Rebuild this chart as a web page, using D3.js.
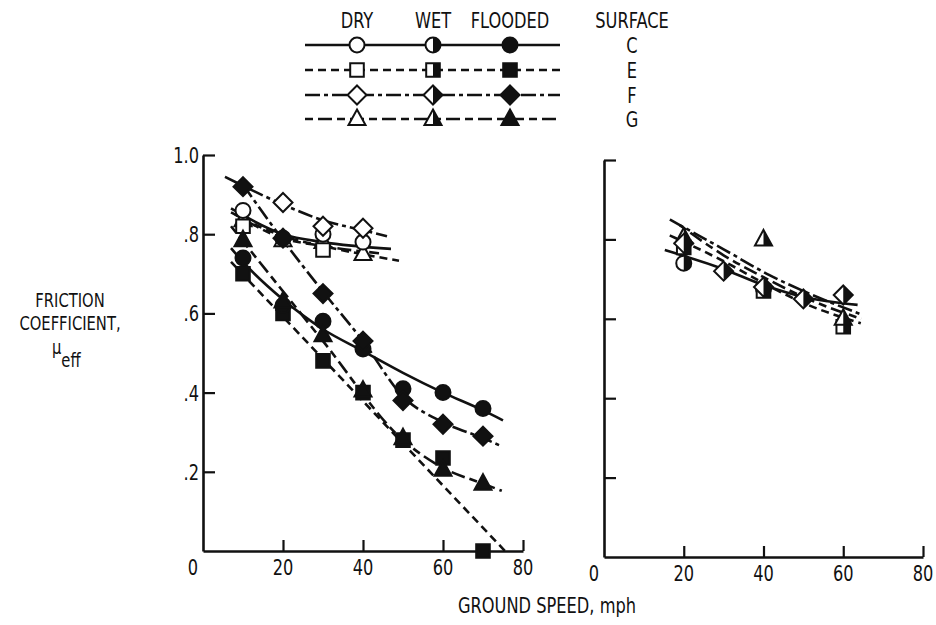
<!DOCTYPE html>
<html>
<head>
<meta charset="utf-8">
<script src="https://cdn.jsdelivr.net/npm/d3@7/dist/d3.min.js"></script>
<style>
  html, body { margin: 0; padding: 0; background: #fff; }
  svg { display: block; }
  text { font-family: "DejaVu Sans Condensed", "DejaVu Sans", sans-serif; fill: #111; }
</style>
</head>
<body>
<svg id="chart" width="936" height="625"></svg>
<script>
// ---- data ----------------------------------------------------------------
const surfaces = ["C", "E", "F", "G"];
const conditions = ["DRY", "WET", "FLOODED"];
const xTicks = [20, 40, 60, 80];
const yTicks = [0.2, 0.4, 0.6, 0.8, 1.0];
const yTickLabels = [".2", ".4", ".6", ".8", "1.0"];

// left panel, dry runs [speed mph, mu]
const dryC = [[10, 0.86], [20, 0.79], [30, 0.80], [40, 0.78]];
const dryE = [[10, 0.82], [30, 0.76]];
const dryF = [[20, 0.88], [30, 0.82], [40, 0.815]];
const dryG = [[10, 0.835], [20, 0.785], [30, 0.78], [40, 0.75]];

// left panel, flooded runs
const floodC = [[10, 0.74], [20, 0.62], [30, 0.58], [40, 0.51], [50, 0.41], [60, 0.40], [70, 0.36]];
const floodE = [[10, 0.70], [20, 0.60], [30, 0.48], [40, 0.40], [50, 0.28], [60, 0.235], [70, 0.0]];
const floodF = [[10, 0.92], [20, 0.79], [30, 0.65], [40, 0.53], [50, 0.38], [60, 0.32], [70, 0.29]];
const floodG = [[10, 0.785], [20, 0.63], [30, 0.545], [40, 0.405], [50, 0.285], [60, 0.205], [70, 0.17]];

// right panel, wet runs
const wetC = [[20, 0.74], [40, 0.675]];
const wetE = [[20, 0.78], [40, 0.67], [60, 0.58]];
const wetF = [[20, 0.79], [30, 0.72], [40, 0.68], [50, 0.65], [60, 0.66]];
const wetG = [[20, 0.805], [40, 0.80], [60, 0.60]];

// faired curves through the runs
const fitDryC = [[7, 0.865], [20, 0.80], [30, 0.78], [47, 0.763]];
const fitDryE = [[7, 0.855], [20, 0.795], [30, 0.77], [49, 0.733]];
const fitDryF = [[5.5, 0.945], [20, 0.875], [30, 0.835], [40, 0.81], [46, 0.795]];
const fitDryG = [[8, 0.85], [20, 0.79], [30, 0.77], [44, 0.752]];

const fitFloodC = [[7, 0.765], [10, 0.73], [20, 0.635], [30, 0.56], [40, 0.505], [50, 0.45], [60, 0.40], [70, 0.355], [75, 0.33]];
const fitFloodE = [[7, 0.73], [75.5, 0.0]];
const fitFloodF = [[10, 0.925], [20, 0.785], [30, 0.655], [40, 0.53], [50, 0.39], [60, 0.325], [70, 0.285], [74.3, 0.266]];
const fitFloodG = [[7, 0.82], [30, 0.53], [50, 0.28], [60, 0.21], [70, 0.17], [74.7, 0.152]];

const fitWetC = [[15.25, 0.773], [30, 0.725], [40, 0.685], [50, 0.655], [63.6, 0.635]];
const fitWetE = [[16.5, 0.81], [30, 0.745], [40, 0.69], [50, 0.64], [64.4, 0.589]];
const fitWetF = [[16.5, 0.85], [30, 0.775], [41.5, 0.71], [50, 0.67], [64.8, 0.61]];
const fitWetG = [[19, 0.836], [30, 0.76], [40, 0.705], [50, 0.655], [64.5, 0.60]];

// ---- styles ---------------------------------------------------------------
const ink = "#111";
const shapeOf = { C: "circle", E: "square", F: "diamond", G: "triangle" };
const dashOf = { C: null, E: "8,5", F: "15,4,4,4", G: "8,5,14,5" };

const svg = d3.select("#chart");

// tall, narrow lettering
function label(g, x, y, str, anchor = "middle", size = 22) {
  return g.append("text")
    .attr("transform", `translate(${x},${y}) scale(0.82,1)`)
    .attr("text-anchor", anchor)
    .style("font-size", size + "px")
    .text(str);
}

// marker geometry, centred on 0,0
function fullPath(shape) {
  switch (shape) {
    case "circle": { const r = 7.5; return `M0,${-r}A${r},${r} 0 1 1 0,${r}A${r},${r} 0 1 1 0,${-r}Z`; }
    case "square": { const s = 6.8; return `M${-s},${-s}H${s}V${s}H${-s}Z`; }
    case "diamond": { const r = 9.5; return `M0,${-r}L${r},0L0,${r}L${-r},0Z`; }
    case "triangle": { const w = 8.5, t = 9.5, b = 6; return `M0,${-t}L${w},${b}H${-w}Z`; }
  }
}
function halfPath(shape) {
  switch (shape) {
    case "circle": { const r = 7.5; return `M0,${-r}A${r},${r} 0 0 1 0,${r}Z`; }
    case "square": { const s = 6.8; return `M0,${-s}H${s}V${s}H0Z`; }
    case "diamond": { const r = 9.5; return `M0,${-r}L${r},0L0,${r}Z`; }
    case "triangle": { const w = 8.5, t = 9.5, b = 6; return `M0,${-t}L${w},${b}H0Z`; }
  }
}
function marker(g, cx, cy, shape, mode) {
  const m = g.append("g").attr("transform", `translate(${cx},${cy})`);
  m.append("path").attr("d", fullPath(shape))
    .attr("fill", mode === "solid" ? ink : "#fff")
    .attr("stroke", ink).attr("stroke-width", 2).attr("stroke-linejoin", "miter");
  if (mode === "half") {
    m.append("path").attr("d", halfPath(shape)).attr("fill", ink);
  }
}

// ---- panels ---------------------------------------------------------------
function panel(opts) {
  const x = d3.scaleLinear().domain([0, 80]).range(opts.xr);
  const y = d3.scaleLinear().domain([0, 1]).range(opts.yr);
  const g = svg.append("g");

  // axes with inward ticks; labels drawn separately
  const ax = g.append("g").attr("transform", `translate(0,${y(0)})`)
    .call(d3.axisBottom(x).tickValues(xTicks).tickSize(-11).tickSizeOuter(0).tickFormat(""));
  const ay = g.append("g").attr("transform", `translate(${x(0)},0)`)
    .call(d3.axisLeft(y).tickValues(yTicks).tickSize(-12).tickSizeOuter(0).tickFormat(""));
  [ax, ay].forEach(a => {
    a.select(".domain").attr("stroke", ink).attr("stroke-width", 2.6);
    a.selectAll(".tick line").attr("stroke", ink).attr("stroke-width", 2.2);
  });
  xTicks.forEach(t => label(g, x(t), y(0) + 24, d3.format("d")(t)));
  if (opts.yLabels) {
    yTicks.forEach((t, i) => label(g, x(0) - 4, y(t) + 8, yTickLabels[i], "end"));
  }
  // corner zero
  label(g, x(0) - 10, y(0) + 24, "0");

  const line = d3.line().x(d => x(d[0])).y(d => y(d[1])).curve(d3.curveMonotoneX);
  opts.fits.forEach(([s, pts]) => {
    g.append("path").attr("d", line(pts)).attr("fill", "none")
      .attr("stroke", ink).attr("stroke-width", 2.6)
      .attr("stroke-dasharray", dashOf[s]);
  });
  opts.points.forEach(([s, mode, pts]) => {
    pts.forEach(d => marker(g, x(d[0]), y(d[1]), shapeOf[s], mode));
  });
}

panel({
  xr: [203, 523], yr: [551, 155], yLabels: true,
  fits: [["C", fitDryC], ["E", fitDryE], ["F", fitDryF], ["G", fitDryG],
         ["C", fitFloodC], ["E", fitFloodE], ["F", fitFloodF], ["G", fitFloodG]],
  points: [["G", "open", dryG], ["E", "open", dryE], ["C", "open", dryC], ["F", "open", dryF],
           ["E", "solid", floodE], ["C", "solid", floodC], ["G", "solid", floodG], ["F", "solid", floodF]]
});

panel({
  xr: [604, 923], yr: [557, 160], yLabels: false,
  fits: [["C", fitWetC], ["E", fitWetE], ["F", fitWetF], ["G", fitWetG]],
  points: [["C", "half", wetC], ["E", "half", wetE], ["G", "half", wetG], ["F", "half", wetF]]
});

// ---- legend ---------------------------------------------------------------
const legendCols = [357, 433, 510];
const legendRows = [45, 70, 95, 119];
const lg = svg.append("g");
conditions.forEach((c, i) => label(lg, legendCols[i], 28, c));
label(lg, 632, 28, "SURFACE");
surfaces.forEach((s, j) => {
  const yy = legendRows[j];
  lg.append("line").attr("x1", 305).attr("x2", 560).attr("y1", yy).attr("y2", yy)
    .attr("stroke", ink).attr("stroke-width", 2.4).attr("stroke-dasharray", dashOf[s]);
  ["open", "half", "solid"].forEach((mode, i) => marker(lg, legendCols[i], yy, shapeOf[s], mode));
  label(lg, 632, yy + 8, s);
});

// ---- axis titles ----------------------------------------------------------
label(svg, 70, 307, "FRICTION", "middle", 20);
label(svg, 70, 330, "COEFFICIENT,", "middle", 20);
const mu = svg.append("text").attr("transform", "translate(52,354) scale(0.82,1)")
  .style("font-size", "20px");
mu.append("tspan").text("μ");
mu.append("tspan").attr("dy", 13).text("eff");
label(svg, 547, 613, "GROUND SPEED, mph");
</script>
</body>
</html>
